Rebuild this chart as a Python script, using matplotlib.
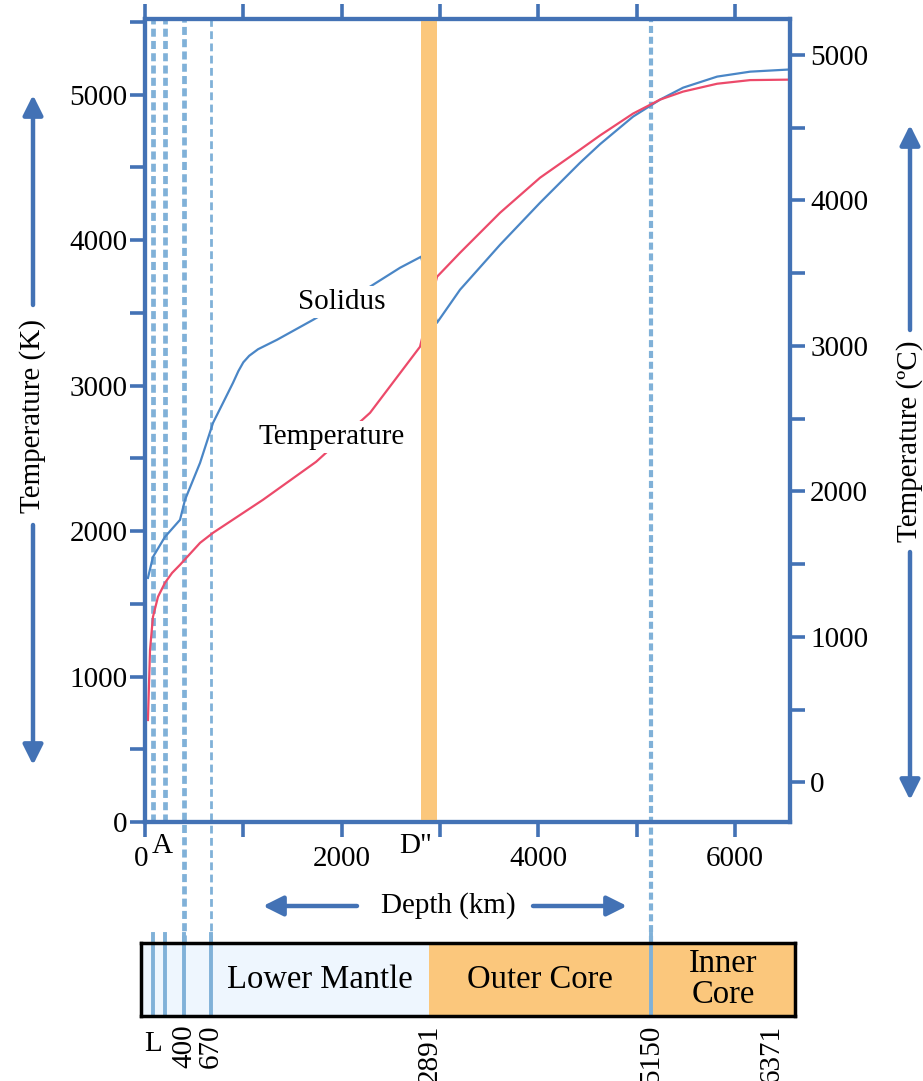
import numpy as np
import matplotlib.pyplot as plt
from matplotlib.patches import FancyArrowPatch
from matplotlib.transforms import ScaledTranslation

plt.rcParams['font.family'] = ['Liberation Serif', 'DejaVu Serif']

# curves (depth in km, temperature in K)
solidus_depth = [30, 81, 203, 356, 407, 560, 692, 800, 895, 950, 1000, 1060, 1150, 1343,
                 1709, 2289, 2594, 2808, 2970, 3204, 3611, 4018, 4425, 4629, 4964, 5239,
                 5473, 5819, 6155, 6530]
solidus_temp = [1678, 1822, 1960, 2077, 2215, 2469, 2744, 2890, 3019, 3100, 3160, 3205, 3250,
                3315, 3452, 3680, 3810, 3886, 3432, 3659, 3968, 4257, 4532, 4660, 4849, 4966,
                5048, 5124, 5158, 5172]
geotherm_depth = [30, 51, 81, 132, 203, 275, 356, 560, 692, 1200, 1740, 2289, 2797,
                  2970, 3204, 3611, 4018, 4425, 4629, 4964, 5239, 5473, 5819, 6155, 6530]
geotherm_temp = [701, 1183, 1410, 1548, 1644, 1712, 1768, 1919, 1988, 2215, 2476, 2813, 3267,
                 3748, 3913, 4188, 4429, 4622, 4720, 4870, 4966, 5021, 5075, 5100, 5103]

# layer boundaries (km)
thin_bounds = [80, 200]
labelled_bounds = [400, 670, 5150]
cmb = 2891
earth_radius = 6371
d_layer = (2810, 2970)

x_ticks = [0, 1000, 2000, 3000, 4000, 5000, 6000]
x_labels = ['0', '', '2000', '', '4000', '', '6000']
k_ticks = list(range(0, 5501, 500))
k_labels = [str(t) if t % 1000 == 0 else '' for t in k_ticks]
c_ticks = list(range(0, 5001, 500))
c_labels = [str(t) if t % 1000 == 0 else '' for t in c_ticks]

AXBLUE = '#4372b5'
DASH = '#80b1d8'
ORANGE = '#fbc77c'
LIGHT = '#eef6fe'
RED = '#ec4a6a'
BLUE = '#4a86c6'

W, H = 923, 1081
fig = plt.figure(figsize=(W / 100, H / 100), dpi=100)


def fr(x0, y0, x1, y1):
    return [x0 / W, 1 - y1 / H, (x1 - x0) / W, (y1 - y0) / H]


ax = fig.add_axes(fr(145, 19, 790, 822))
xmax, ymax = 6560, 5520
ax.set_xlim(0, xmax)
ax.set_ylim(0, ymax)

ax.plot(solidus_depth, solidus_temp, color=BLUE, lw=1.6, zorder=3)
ax.plot(geotherm_depth, geotherm_temp, color=RED, lw=1.6, zorder=3)
ax.axvspan(*d_layer, color=ORANGE, lw=0, zorder=4)

below = -(943 - 822) / (822 - 19)
for d in thin_bounds:
    ax.axvline(d, color=DASH, lw=3.4, ls=(0, (1.7, 0.9)), zorder=2)
ax.axvline(labelled_bounds[0], ymin=below, color=DASH, lw=3.4, ls=(0, (1.7, 0.9)),
           zorder=2, clip_on=False)
ax.axvline(labelled_bounds[1], ymin=below, color=DASH, lw=2.0, ls=(0, (2.8, 1.6)),
           zorder=2, clip_on=False)
ax.axvline(labelled_bounds[2], ymin=below, color=DASH, lw=3.0, ls=(0, (1.7, 0.9)),
           zorder=2, clip_on=False)

ax.text(2004, 3576, 'Solidus', fontsize=21, ha='center', va='center', zorder=5,
        bbox=dict(facecolor='white', edgecolor='none', pad=2))
ax.text(1900, 2648, 'Temperature', fontsize=21, ha='center', va='center', zorder=5,
        bbox=dict(facecolor='white', edgecolor='none', pad=2))

for sp in ax.spines.values():
    sp.set_color(AXBLUE)
    sp.set_linewidth(3)
ax.set_xticks(x_ticks)
ax.set_xticklabels(x_labels)
ax.set_yticks(k_ticks)
ax.set_yticklabels(k_labels)
ax.tick_params(axis='both', direction='out', length=11, width=2.6, color=AXBLUE,
               labelsize=21, top=True)
ax.tick_params(axis='x', pad=6)
ax.tick_params(axis='y', pad=1.5)
# the "0" sits a little left of its tick
zero = ax.get_xticklabels()[0]
zero.set_transform(zero.get_transform() + ScaledTranslation(-4 / 100, 0, fig.dpi_scale_trans))

for x, s in [(180, 'A'), (2757, 'D"')]:
    ax.annotate(s, xy=(x, 0), xycoords=('data', 'axes fraction'), xytext=(0, -8),
                textcoords='offset points', ha='center', va='top', fontsize=21)

ax2 = ax.twinx()
ax2.set_ylim(-273, ymax - 273)
ax2.set_yticks(c_ticks)
ax2.set_yticklabels(c_labels)
for sp in ax2.spines.values():
    sp.set_color(AXBLUE)
    sp.set_linewidth(3)
ax2.tick_params(axis='y', direction='out', length=11, width=2.6, color=AXBLUE,
                labelsize=21, pad=3.5)

# layer strip, same km-per-pixel as the main axes
scale = (790 - 145) / xmax
sx0, sx1 = (141 - 145) / scale, (795 - 145) / scale
sax = fig.add_axes(fr(141, 943, 795, 1016))
sax.set_xlim(sx0, sx1)
sax.set_ylim(0, 1)
sax.axvspan(sx0, cmb, color=LIGHT, lw=0)
sax.axvspan(cmb, sx1, color=ORANGE, lw=0)
for d in thin_bounds + labelled_bounds:
    sax.axvline(d, ymin=0, ymax=1.13, color=DASH, lw=2.8, clip_on=False, zorder=3)
for sp in sax.spines.values():
    sp.set_color('black')
    sp.set_linewidth(2.5)
    sp.set_zorder(5)
sax.set_xticks([])
sax.set_yticks([])
sax.text((670 + cmb) / 2, 0.5, 'Lower Mantle', fontsize=23.5, ha='center', va='center')
sax.text((cmb + 5150) / 2, 0.5, 'Outer Core', fontsize=23.5, ha='center', va='center')
sax.text((5150 + sx1) / 2, 0.5, 'Inner\nCore', fontsize=23.5, ha='center', va='center',
         linespacing=1.0)
sax.text(80, -0.2, 'L', fontsize=21, ha='center', va='top')
for d in labelled_bounds[:2] + [cmb, labelled_bounds[2], earth_radius]:
    sax.text(d, -0.12, str(d), fontsize=21, ha='center', va='top', rotation=90)


def arrow(x0, y0, x1, y1):
    fig.patches.append(FancyArrowPatch(
        (x0 / W, 1 - y0 / H), (x1 / W, 1 - y1 / H), transform=fig.transFigure,
        arrowstyle='-|>', mutation_scale=30, color=AXBLUE, lw=3.2, shrinkA=0, shrinkB=0))


# axis titles with arrows
arrow(33, 305, 33, 95)
arrow(33, 525, 33, 765)
fig.text(33 / W, 1 - 416 / H, 'Temperature (K)', rotation=90, fontsize=21,
         ha='center', va='center')
arrow(910, 330, 910, 125)
arrow(910, 552, 910, 800)
fig.text(910 / W, 1 - 441 / H, 'Temperature (ºC)', rotation=90, fontsize=21,
         ha='center', va='center')
arrow(357, 906, 263, 906)
arrow(533, 906, 627, 906)
fig.text(448 / W, 1 - 906 / H, 'Depth (km)', fontsize=21, ha='center', va='center')

fig.savefig('out.png', dpi=100)
